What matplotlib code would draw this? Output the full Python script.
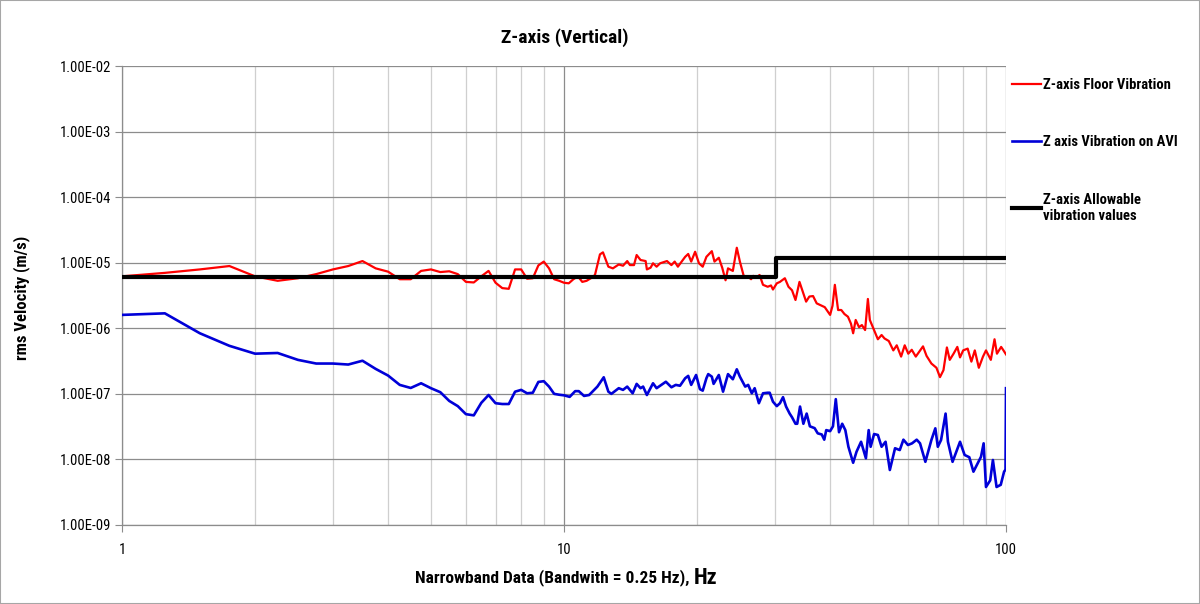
import matplotlib
matplotlib.use("Agg")
import matplotlib.pyplot as plt
from matplotlib import font_manager as fm
from matplotlib.patches import Rectangle
from matplotlib.ticker import FixedLocator, NullFormatter, FuncFormatter

# ---------------- data ----------------
freq_floor = [1.0, 1.25, 1.5, 1.75, 2.0, 2.25, 2.5, 2.75, 3.0, 3.25, 3.5, 3.75, 4.0, 4.25, 4.5, 4.75,
              5.0, 5.25, 5.5, 5.75, 6.0, 6.25, 6.5, 6.75, 7.0, 7.25, 7.5, 7.75, 8.0, 8.25, 8.5, 8.75,
              9.0, 9.25, 9.5, 9.75, 10.0, 10.25, 10.5, 10.75, 11.0, 11.25, 11.5, 11.75,
              12.06, 12.25, 12.6, 12.9, 13.3, 13.6, 13.9, 14.1, 14.4, 14.6, 14.9, 15.3, 15.4, 15.7,
              15.9, 16.2, 16.5, 17.1, 17.5, 17.8, 18.1, 18.8, 19.1, 19.4, 19.8, 20.2, 20.6, 21.0,
              21.6, 21.9, 22.4, 22.8, 23.2, 23.5, 24.1, 24.6, 25.0, 25.5, 26.1, 26.5, 26.8, 27.3,
              27.7, 28.2, 28.9, 29.4, 29.7, 30.3, 30.8, 31.6, 32.2, 32.8, 33.4, 34.1, 34.7, 35.3,
              35.9, 36.6, 37.3, 38.0, 38.9, 40.0, 40.5, 41.0, 41.7, 42.4, 43.1, 43.9, 44.6, 45.1,
              45.7, 46.5, 47.2, 48.0, 48.7, 49.2, 50.3, 51.3, 52.3, 53.1, 54.3, 55.6, 56.6, 57.9,
              59.0, 60.1, 61.2, 62.5, 64.9, 66.1, 67.8, 69.6, 70.9, 72.2, 73.5, 74.6, 76.1, 77.6,
              78.7, 80.0, 81.9, 83.5, 85.0, 86.8, 88.7, 90.1, 92.4, 94.2, 95.4, 97.5, 98.7, 100.0]
vel_floor = [6.2e-6, 7.0e-6, 7.9e-6, 8.9e-6, 6.2e-6, 5.3e-6, 5.8e-6, 6.7e-6, 7.9e-6, 8.9e-6, 1.06e-5,
             8.2e-6, 7.3e-6, 5.6e-6, 5.6e-6, 7.5e-6, 7.9e-6, 7.2e-6, 7.4e-6, 6.7e-6, 5.1e-6, 5.0e-6,
             6.2e-6, 7.5e-6, 4.95e-6, 4.1e-6, 4.0e-6, 7.9e-6, 7.9e-6, 5.7e-6, 5.8e-6, 9.1e-6, 1.04e-5,
             8.2e-6, 5.6e-6, 5.3e-6, 4.95e-6, 4.85e-6, 5.6e-6, 6.2e-6, 5.1e-6, 5.3e-6, 5.8e-6, 6.5e-6,
             1.34e-5, 1.44e-5, 8.7e-6, 8.2e-6, 9.4e-6, 9.0e-6, 1.06e-5, 9.2e-6, 9.2e-6, 1.31e-5,
             1.1e-5, 1.06e-5, 7.9e-6, 8.4e-6, 9.8e-6, 8.7e-6, 9.8e-6, 1.06e-5, 9.2e-6, 1.04e-5,
             8.7e-6, 1.23e-5, 1.36e-5, 1.04e-5, 1.47e-5, 9.8e-6, 8.7e-6, 1.23e-5, 1.5e-5, 1.04e-5,
             1.19e-5, 8.4e-6, 5.4e-6, 8.2e-6, 7.5e-6, 1.69e-5, 1.04e-5, 6.3e-6, 6.1e-6, 5.6e-6,
             6.3e-6, 6.0e-6, 6.5e-6, 4.6e-6, 4.3e-6, 4.5e-6, 3.9e-6, 4.85e-6, 5.1e-6, 5.8e-6, 4.3e-6,
             3.8e-6, 2.7e-6, 5.1e-6, 3.6e-6, 2.55e-6, 3.05e-6, 3.1e-6, 2.4e-6, 2.26e-6, 2.1e-6,
             1.6e-6, 2.2e-6, 4.6e-6, 1.9e-6, 1.9e-6, 1.65e-6, 1.5e-6, 1.17e-6, 8.4e-7, 1.34e-6,
             1.04e-6, 1.12e-6, 9.4e-7, 2.8e-6, 1.34e-6, 9.4e-7, 6.8e-7, 7.9e-7, 7.0e-7, 6.4e-7,
             4.6e-7, 5.5e-7, 3.7e-7, 5.5e-7, 4.1e-7, 4.7e-7, 3.7e-7, 5.3e-7, 3.8e-7, 2.9e-7, 2.5e-7,
             1.8e-7, 2.3e-7, 5.1e-7, 3.3e-7, 4.1e-7, 5.2e-7, 3.6e-7, 4.6e-7, 4.9e-7, 3.1e-7, 4.6e-7,
             2.5e-7, 3.7e-7, 4.6e-7, 3.3e-7, 6.8e-7, 4.1e-7, 5.2e-7, 4.6e-7, 4.0e-7]

freq_avi = [1.0, 1.25, 1.5, 1.75, 2.0, 2.25, 2.5, 2.75, 3.0, 3.25, 3.5, 3.75, 4.0, 4.25, 4.5, 4.75,
            5.0, 5.25, 5.5, 5.75, 6.0, 6.25, 6.5, 6.75, 7.0, 7.25, 7.5, 7.75, 8.0, 8.25, 8.5, 8.75,
            9.0, 9.25, 9.5, 9.75, 10.0, 10.3, 10.6, 10.8, 11.1, 11.4, 11.9, 12.3, 12.6, 12.8, 13.3,
            13.6, 13.9, 14.3, 14.6, 14.9, 15.1, 15.4, 15.9, 16.2, 17.0, 17.5, 17.9, 18.3, 18.8,
            19.1, 19.4, 19.9, 20.3, 20.6, 21.0, 21.2, 21.6, 21.8, 22.4, 22.9, 23.5, 24.1, 24.6,
            25.0, 25.7, 26.1, 26.6, 27.0, 27.6, 28.2, 28.9, 29.2, 29.7, 30.3, 30.8, 31.3, 31.8,
            32.4, 32.8, 33.4, 33.7, 34.2, 34.8, 35.4, 36.0, 36.9, 37.5, 38.3, 38.8, 39.2, 40.0,
            40.6, 41.2, 41.9, 42.6, 43.3, 44.0, 45.1, 45.9, 47.0, 48.2, 48.9, 49.4, 50.3, 51.3,
            52.3, 53.4, 54.6, 56.1, 57.5, 58.6, 60.0, 61.3, 62.8, 63.9, 65.7, 67.8, 69.2, 70.1,
            71.3, 73.0, 73.9, 75.7, 77.2, 78.7, 80.6, 82.6, 84.4, 85.9, 87.8, 89.0, 90.1, 92.1,
            93.4, 95.2, 97.3, 99.0, 99.75, 100.0]
vel_avi = [1.6e-6, 1.69e-6, 8.4e-7, 5.4e-7, 4.1e-7, 4.2e-7, 3.3e-7, 2.9e-7, 2.9e-7, 2.8e-7, 3.2e-7,
           2.4e-7, 1.9e-7, 1.37e-7, 1.23e-7, 1.45e-7, 1.22e-7, 1.06e-7, 7.8e-8, 6.5e-8, 4.9e-8,
           4.7e-8, 7.3e-8, 9.6e-8, 7.2e-8, 7.0e-8, 7.0e-8, 1.08e-7, 1.15e-7, 1.02e-7, 1.04e-7,
           1.52e-7, 1.56e-7, 1.29e-7, 1.0e-7, 9.7e-8, 9.5e-8, 9.0e-8, 1.1e-7, 1.1e-7, 9.3e-8,
           9.6e-8, 1.29e-7, 1.79e-7, 1.08e-7, 1.0e-7, 1.22e-7, 1.15e-7, 1.29e-7, 1.02e-7, 1.42e-7,
           1.22e-7, 1.29e-7, 9.6e-8, 1.45e-7, 1.22e-7, 1.53e-7, 1.26e-7, 1.37e-7, 1.33e-7, 1.73e-7,
           1.88e-7, 1.37e-7, 1.94e-7, 1.18e-7, 1.12e-7, 1.73e-7, 2.0e-7, 1.83e-7, 1.42e-7, 1.94e-7,
           1.08e-7, 2.0e-7, 1.67e-7, 2.37e-7, 1.83e-7, 1.29e-7, 1.37e-7, 1.02e-7, 1.22e-7, 7.2e-8,
           1.02e-7, 1.04e-7, 1.04e-7, 7.6e-8, 6.5e-8, 7.2e-8, 8.9e-8, 6.4e-8, 5.0e-8, 4.4e-8,
           3.5e-8, 3.5e-8, 6.4e-8, 3.5e-8, 5.0e-8, 3.2e-8, 3.0e-8, 2.5e-8, 2.4e-8, 2.0e-8, 2.8e-8,
           2.7e-8, 3.2e-8, 8.3e-8, 2.6e-8, 3.5e-8, 2.8e-8, 1.56e-8, 8.9e-9, 1.31e-8, 1.86e-8,
           1.04e-8, 2.8e-8, 1.56e-8, 2.44e-8, 2.36e-8, 1.56e-8, 1.86e-8, 6.9e-9, 1.48e-8, 1.39e-8,
           2.0e-8, 1.66e-8, 1.76e-8, 2.0e-8, 1.76e-8, 9.2e-9, 1.98e-8, 2.98e-8, 1.56e-8, 1.98e-8,
           5.0e-8, 1.86e-8, 9.2e-9, 1.31e-8, 1.86e-8, 1.17e-8, 1.08e-8, 6.5e-9, 8.2e-9, 1.1e-8,
           1.76e-8, 3.8e-9, 4.8e-9, 9.8e-9, 3.8e-9, 4.1e-9, 6.5e-9, 7.0e-9, 1.22e-7]

freq_allow = [1.0, 30.25, 100.0]
vel_allow = [6.0e-6, 1.2e-5, 1.2e-5]

y_ticks = [1e-9, 1e-8, 1e-7, 1e-6, 1e-5, 1e-4, 1e-3, 1e-2]
x_ticks = [1, 10, 100]

title = "Z-axis (Vertical)"
ylabel = "rms Velocity (m/s)"
xlabel_main = "Narrowband Data (Bandwith = 0.25 Hz), "
xlabel_unit = "Hz"
labels = ["Z-axis Floor Vibration", "Z axis Vibration on AVI", "Z-axis Allowable\nvibration values"]

# ---------------- fonts ----------------
names = {f.name for f in fm.fontManager.ttflist}
narrow = None
for cand in ["Liberation Sans Narrow", "Arial Narrow", "DejaVu Sans Condensed", "Roboto Condensed"]:
    if cand in names:
        narrow = cand
        break
if narrow is None:
    narrow = "Liberation Sans"
plt.rcParams['font.family'] = [narrow, 'DejaVu Sans']

# ---------------- figure ----------------
W, H = 1200, 604
fig = plt.figure(figsize=(12, 6.04), dpi=100)
ax = fig.add_axes([122 / W, 1 - 525 / H, (1006 - 122) / W, (525 - 66) / H])

ax.set_xscale('log')
ax.set_yscale('log')
ax.set_xlim(1, 100)
ax.set_ylim(1e-9, 1e-2)

l1, = ax.plot(freq_floor, vel_floor, color='#ff0000', lw=1.6, zorder=3)
l2, = ax.plot(freq_avi, vel_avi, color='#0000d8', lw=1.9, zorder=3)
l3, = ax.plot(freq_allow, vel_allow, color='black', lw=3, drawstyle='steps-post', zorder=4)

# grid
ax.yaxis.set_major_locator(FixedLocator(y_ticks))
ax.yaxis.set_minor_locator(FixedLocator([]))
ax.xaxis.set_major_locator(FixedLocator(x_ticks))
minor_x = [m * d for d in (1, 10) for m in range(2, 10)]
ax.xaxis.set_minor_locator(FixedLocator(minor_x))
ax.xaxis.set_minor_formatter(NullFormatter())
ax.yaxis.set_major_formatter(FuncFormatter(lambda v, p: f"{v:.2E}"))
ax.xaxis.set_major_formatter(FuncFormatter(lambda v, p: f"{v:g}"))

ax.grid(True, which='major', axis='y', color='#8c8c8c', lw=0.9, zorder=0)
ax.grid(True, which='major', axis='x', color='#8c8c8c', lw=0.9, zorder=0)
ax.grid(True, which='minor', axis='x', color='#cfcfcf', lw=0.9, zorder=0)

for s in ['top', 'right']:
    ax.spines[s].set_visible(False)
for s in ['left', 'bottom']:
    ax.spines[s].set_color('#8c8c8c')
    ax.spines[s].set_linewidth(0.9)

ax.tick_params(axis='y', which='major', length=5, color='#8c8c8c', labelsize=10.5, pad=3)
ax.tick_params(axis='x', which='major', length=5, color='#8c8c8c', labelsize=10.5, pad=8)
ax.tick_params(axis='x', which='minor', length=0)

# title and labels
fig.text(565 / W, 1 - 38 / H, title, ha='center', va='center', fontsize=14, fontweight='bold')
fig.text(22 / W, 1 - 298 / H, ylabel, ha='center', va='center', rotation=90, fontsize=12, fontweight='bold')

t1 = fig.text(415 / W, 1 - 578 / H, xlabel_main, ha='left', va='center', fontsize=12.5, fontweight='bold')
fig.canvas.draw()
bb = t1.get_window_extent()
fig.text(bb.x1 / W, 1 - 578 / H, xlabel_unit, ha='left', va='center', fontsize=16, fontweight='bold')

# legend
leg = fig.legend([l1, l2, l3], labels, loc='upper left', bbox_to_anchor=(1012 / W, 1 - 78 / H),
                 frameon=False, prop={'weight': 'bold', 'size': 10.5}, handlelength=2.0,
                 handletextpad=0.15, labelspacing=2.98, borderaxespad=0, borderpad=0)

# figure border
fig.patches.append(Rectangle((0, 0), 1, 1, transform=fig.transFigure, fill=False,
                             edgecolor='#a6a6a6', lw=1.5))

fig.savefig('out.png', dpi=100)
